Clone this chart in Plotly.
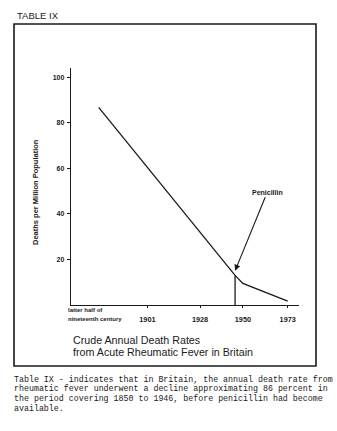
import plotly.graph_objects as go

# ---- data ----
years = [1876, 1946, 1950, 1973]
deaths = [86.7, 13.0, 9.5, 1.7]
penicillin_year = 1946
tick_years = [1901, 1928, 1950, 1973]
tick_labels = ["1901", "1928", "1950", "1973"]
y_ticks = [20, 40, 60, 80, 100]

title_lines = ["Crude Annual Death Rates", "from Acute Rheumatic Fever in Britain"]
caption_lines = [
    "Table IX - indicates that in Britain, the annual death rate from",
    "rheumatic fever underwent a decline approximating 86 percent in",
    "the period covering 1850 to 1946, before penicillin had become",
    "available.",
]

# ---- layout geometry (pixels) ----
W, H = 337, 431
L, R, T, B = 71, 299, 68, 305
pw, ph = R - L, B - T


def px(x):
    return (x - L) / pw


def py(y):
    return (B - y) / ph


ink = "#1a1a1a"
sans = "Liberation Sans, Arial, sans-serif"

fig = go.Figure()
fig.add_trace(go.Scatter(x=years, y=deaths, mode="lines",
                         line=dict(color=ink, width=1.3), hoverinfo="skip"))
fig.add_trace(go.Scatter(x=[penicillin_year, penicillin_year], y=[0, deaths[1]], mode="lines",
                         line=dict(color=ink, width=1.3), hoverinfo="skip"))

ann = []
ann.append(dict(text="TABLE IX", x=px(15), y=py(15), xref="paper", yref="paper",
                xanchor="left", yanchor="middle", showarrow=False,
                font=dict(family=sans, size=9.5, color=ink)))
for i, t in enumerate(title_lines):
    ann.append(dict(text=t, x=px(71), y=py([340, 351.5][i]), xref="paper", yref="paper",
                    xanchor="left", yanchor="middle", showarrow=False,
                    font=dict(family=sans, size=10.7, color=ink)))
for i, t in enumerate(caption_lines):
    ann.append(dict(text=t, x=px(12), y=py([379, 388.7, 398.4, 408.1][i]), xref="paper", yref="paper",
                    xanchor="left", yanchor="middle", showarrow=False,
                    font=dict(family="Liberation Mono, Courier New, monospace", size=8.3, color=ink)))
for i, t in enumerate(["latter half of", "nineteenth century"]):
    ann.append(dict(text="<b>" + t + "</b>", x=px(66), y=py([310, 319][i]), xref="paper", yref="paper",
                    xanchor="left", yanchor="middle", showarrow=False,
                    font=dict(family=sans, size=6, color=ink)))
ann.append(dict(text="<b>Deaths per Million Population</b>", x=px(35), y=py(192),
                xref="paper", yref="paper", textangle=-90, showarrow=False,
                xanchor="center", yanchor="middle",
                font=dict(family=sans, size=7.5, color=ink)))
ann.append(dict(text="<b>Penicillin</b>", x=penicillin_year, y=15.0, xref="x", yref="y",
                ax=1962.5, ay=49.5, axref="x", ayref="y", showarrow=True,
                arrowhead=2, arrowsize=1.1, arrowwidth=1.1, arrowcolor=ink, standoff=0,
                font=dict(family=sans, size=7, color=ink)))

shapes = [dict(type="rect", xref="paper", yref="paper",
               x0=px(14), x1=px(316), y0=py(24), y1=py(366),
               line=dict(color=ink, width=1.6))]

fig.update_layout(
    width=W, height=H,
    margin=dict(l=L, r=W - R, t=T, b=H - B, pad=0),
    paper_bgcolor="white", plot_bgcolor="white",
    showlegend=False,
    annotations=ann, shapes=shapes,
    xaxis=dict(range=[1861.8, 1978.8], tickvals=tick_years, ticktext=tick_labels,
               showgrid=False, zeroline=False, showline=True, linecolor=ink, linewidth=1.2,
               ticks="outside", ticklen=2, tickcolor=ink, tickwidth=1,
               ticklabelstandoff=5,
               tickfont=dict(family=sans, size=7.3, color=ink, weight="bold"), fixedrange=True),
    yaxis=dict(range=[0, 104], tickvals=y_ticks,
               showgrid=False, zeroline=False, showline=True, linecolor=ink, linewidth=1.4,
               ticks="outside", ticklen=3, tickcolor=ink, tickwidth=1,
               ticklabelstandoff=1,
               tickfont=dict(family=sans, size=7, color=ink, weight="bold"), fixedrange=True),
)

fig.write_html("out.html", config={"displayModeBar": False})
